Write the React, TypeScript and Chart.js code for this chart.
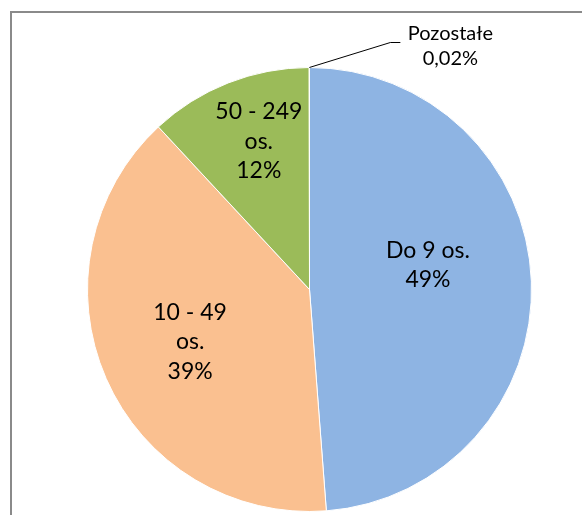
import React, { useEffect, useRef } from "react";
import { Chart, registerables } from "chart.js";

Chart.register(...registerables);

const categories: string[][] = [["Do 9 os."], ["10 - 49", "os."], ["50 - 249", "os."], ["Pozostałe"]];
const values: number[] = [48.8, 39.3, 11.9, 0.02];
const colors: string[] = ["#8EB4E3", "#FAC090", "#9BBB59", "#B3A2C7"];

const FONT = "Lato, 'Open Sans', sans-serif";

function pctText(v: number, i: number): string {
  if (i < 3) return Math.round(v) + "%";
  return v.toFixed(2).replace(".", ",") + "%";
}

const placement = [
  { r: 0.545, da: -9.5 },
  { r: 0.587, da: 0 },
  { r: 0.705, da: 2.6 },
];

const labelPlugin = {
  id: "pieLabels",
  afterDatasetsDraw(chart: any) {
    const ctx = chart.ctx as CanvasRenderingContext2D;
    const meta = chart.getDatasetMeta(0);
    ctx.save();
    ctx.fillStyle = "#000";
    ctx.textAlign = "center";
    ctx.textBaseline = "middle";
    meta.data.forEach((arc: any, i: number) => {
      const p = arc.getProps(["x", "y", "startAngle", "endAngle", "outerRadius"], true);
      const mid = (p.startAngle + p.endAngle) / 2;
      const lines = [...categories[i], pctText(values[i], i)];
      if (i < placement.length) {
        const pl = placement[i];
        const a = mid + (pl.da * Math.PI) / 180;
        const cx = p.x + Math.cos(a) * p.outerRadius * pl.r;
        const cy = p.y + Math.sin(a) * p.outerRadius * pl.r;
        ctx.font = `23px ${FONT}`;
        const lh = 29.5;
        lines.forEach((t, k) => {
          ctx.fillText(t, cx, cy + (k - (lines.length - 1) / 2) * lh);
        });
      } else {
        const sx = p.x + Math.cos(mid) * p.outerRadius;
        const sy = p.y + Math.sin(mid) * p.outerRadius;
        const ex = sx + 81;
        const ey = sy - 25;
        const fx = ex + 10;
        ctx.strokeStyle = "#000";
        ctx.lineWidth = 1;
        ctx.beginPath();
        ctx.moveTo(sx, sy);
        ctx.lineTo(ex, ey);
        ctx.lineTo(fx, ey);
        ctx.stroke();
        ctx.font = `20px ${FONT}`;
        const tx = fx + 50;
        ctx.fillText(lines[0], tx, ey - 9);
        ctx.fillText(lines[1], tx, ey + 16);
      }
    });
    ctx.restore();
  },
};

export default function App() {
  const ref = useRef<HTMLCanvasElement>(null);
  useEffect(() => {
    if (!ref.current) return;
    const chart = new Chart(ref.current, {
      type: "pie",
      data: {
        labels: categories.map((c) => c.join(" ")),
        datasets: [
          {
            data: values,
            backgroundColor: colors,
            borderColor: "#ffffff",
            borderWidth: 1,
          },
        ],
      },
      options: {
        responsive: false,
        animation: false,
        layout: { padding: { left: 87, right: 50, top: 67, bottom: 3 } },
        plugins: {
          legend: { display: false },
          tooltip: { enabled: false },
        },
      },
      plugins: [labelPlugin],
    });
    return () => chart.destroy();
  }, []);
  return (
    <div
      style={{
        position: "fixed",
        left: 0,
        top: 0,
        width: 582,
        height: 515,
        overflow: "hidden",
        background: "#fff",
      }}
    >
      <div
        style={{
          position: "absolute",
          left: 10,
          top: 11,
          width: 700,
          height: 700,
          borderLeft: "2px solid #8a8a8a",
          borderTop: "2px solid #8a8a8a",
        }}
      />
      <canvas ref={ref} width={582} height={515} style={{ position: "absolute", left: 0, top: 0 }} />
    </div>
  );
}
